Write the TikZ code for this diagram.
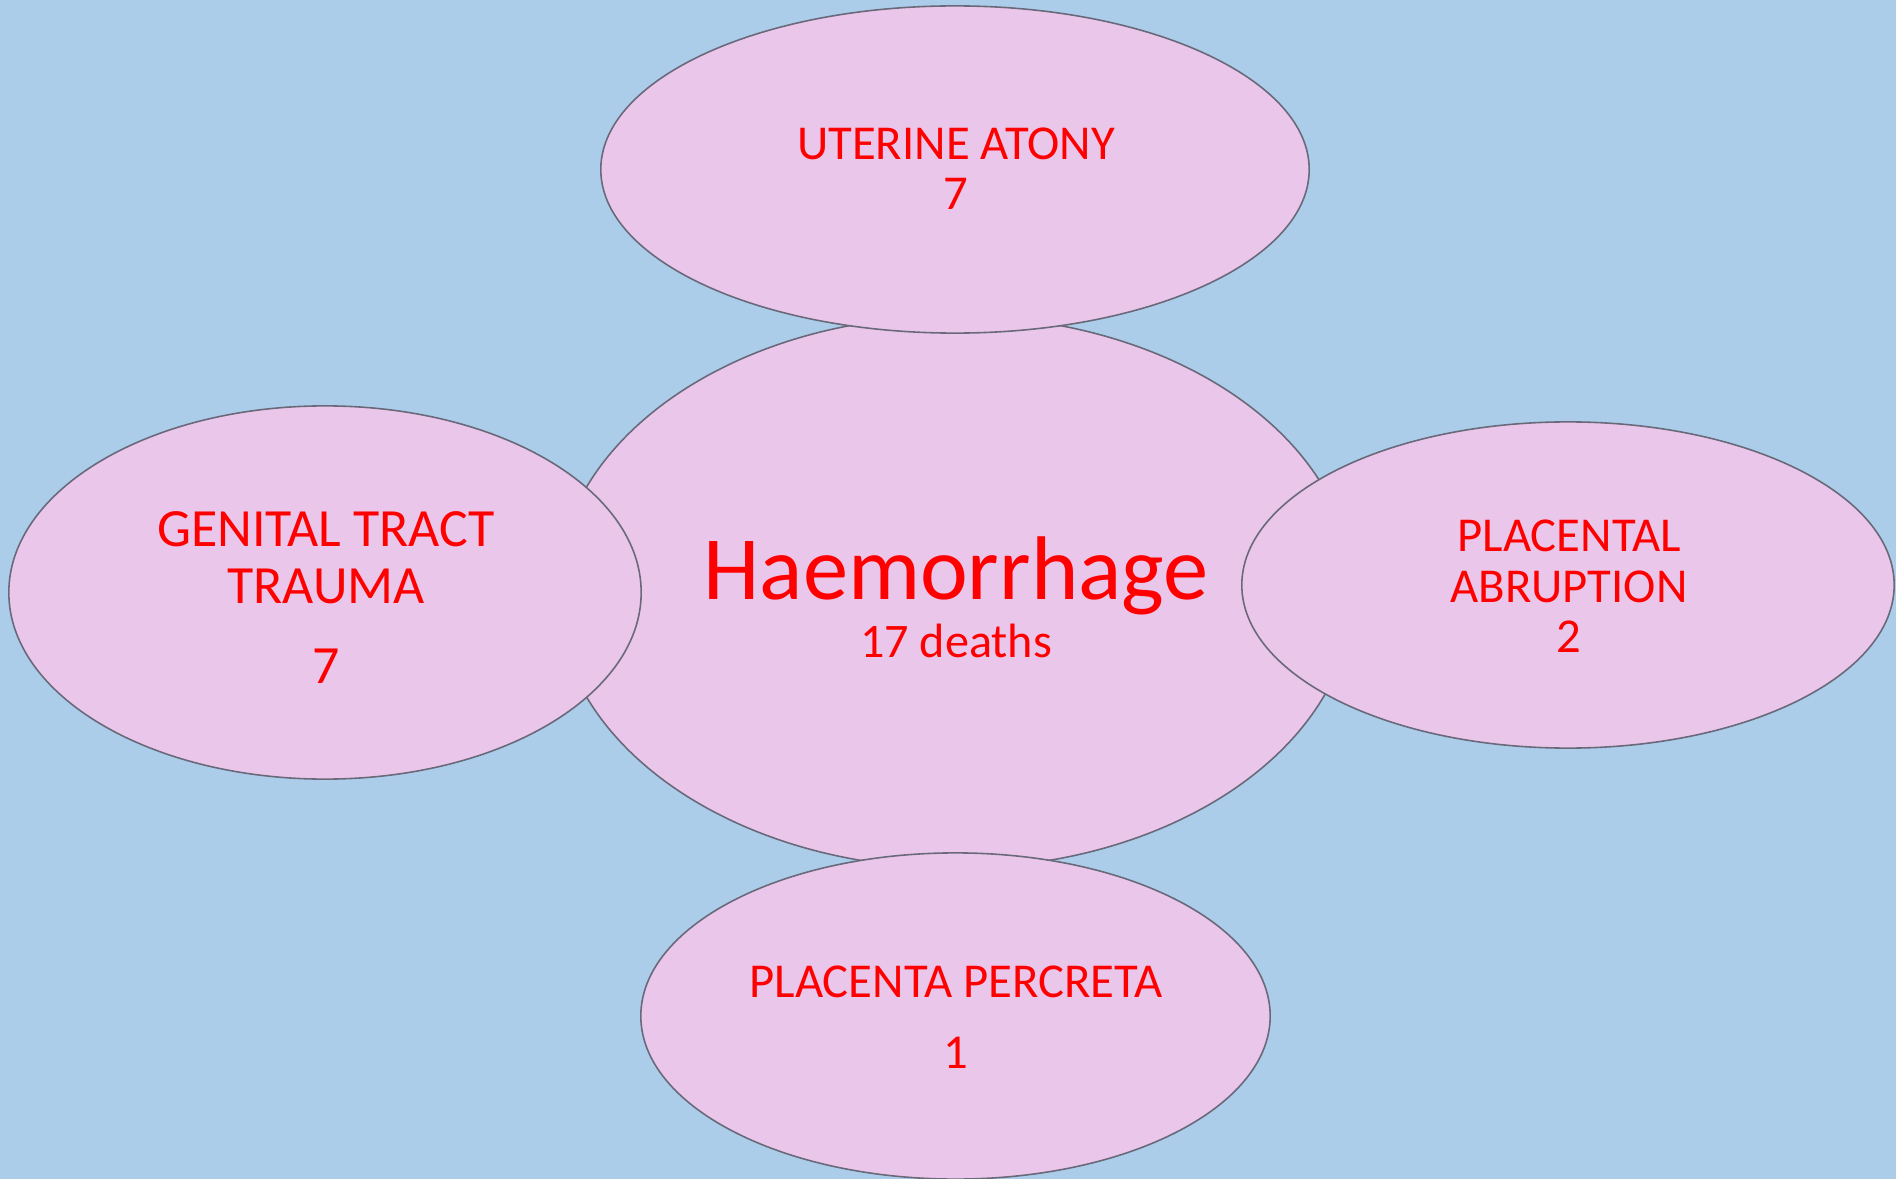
\documentclass[tikz,border=0pt]{standalone}
\usepackage{fontspec}
\setmainfont{Carlito}
\usetikzlibrary{shapes.geometric}
\definecolor{bgblue}{RGB}{171,205,234}
\definecolor{pinkfill}{RGB}{234,198,234}
\definecolor{rimgray}{RGB}{105,105,122}
\definecolor{txtred}{RGB}{255,0,0}
\tikzset{
  blob/.style={ellipse, draw=rimgray, fill=pinkfill, line width=0.45pt, inner sep=0pt},
  lbl/.style={anchor=base, text=txtred, inner sep=0pt, font=\fontsize{13.85}{16}\selectfont},
  lblbig/.style={lbl, font=\fontsize{15.3}{18}\selectfont},
  lblhuge/.style={lbl, font=\fontsize{25.7}{30}\selectfont}
}
\begin{document}
\begin{tikzpicture}[x=0.01cm,y=-0.01cm]
\fill[bgblue] (0,0) rectangle (1896,1179);
\useasboundingbox (0,0) rectangle (1896,1179);
% central ellipse
\node[blob, minimum width=7.96cm, minimum height=5.52cm] (hae) at (955,592) {};
% satellites
\node[blob, minimum width=7.08cm, minimum height=3.27cm] (ut) at (955,169.5) {};
\node[blob, minimum width=6.32cm, minimum height=3.73cm] (gt) at (325,592.5) {};
\node[blob, minimum width=6.52cm, minimum height=3.26cm] (pa) at (1568,585) {};
\node[blob, minimum width=6.29cm, minimum height=3.26cm] (pp) at (955.5,1016) {};
% texts
\node[lblhuge] (haeA) at (956,599) {Haemorrhage};
\node[lbl, font=\fontsize{13.7}{16}\selectfont] (haeB) at (956,657) {17 deaths};
\node[lbl] (utA) at (956,160) {UTERINE ATONY};
\node[lbl] (utB) at (956,210) {7};
\node[lblbig] (gtA) at (326,547) {GENITAL TRACT};
\node[lblbig] (gtB) at (326,603) {TRAUMA};
\node[lblbig] (gtC) at (326,683) {7};
\node[lbl] (paA) at (1569,551) {PLACENTAL};
\node[lbl] (paB) at (1569,602) {ABRUPTION};
\node[lbl] (paC) at (1569,652) {2};
\node[lbl] (ppA) at (956,997) {PLACENTA PERCRETA};
\node[lbl] (ppB) at (956,1068) {1};
\end{tikzpicture}
\end{document}
